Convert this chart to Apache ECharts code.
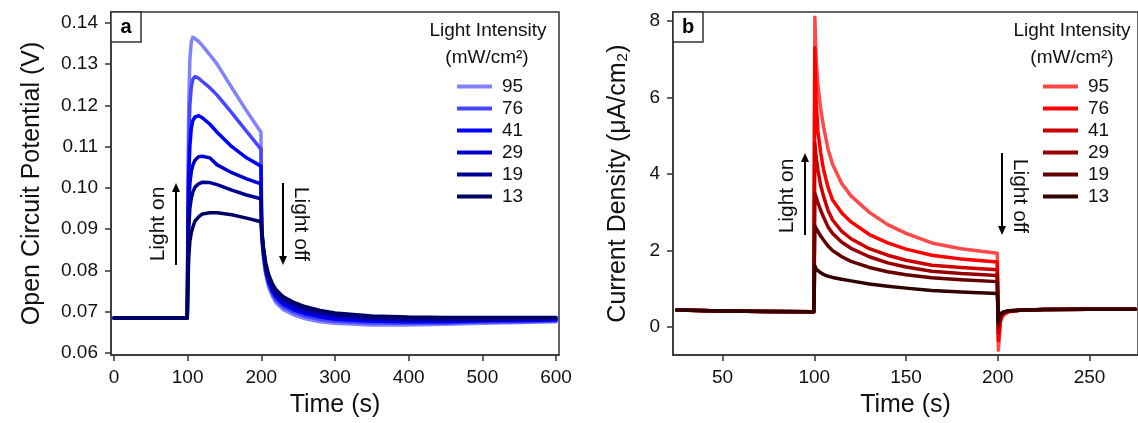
<!DOCTYPE html>
<html>
<head>
<meta charset="utf-8">
<script src="https://cdn.jsdelivr.net/npm/echarts@6/dist/echarts.min.js"></script>
<style>
html,body{margin:0;padding:0;background:#fff;}
#chart{width:1138px;height:423px;}
</style>
</head>
<body>
<div id="chart"></div>
<script>
// 图例分组 (mW/cm2)
var intensities = ['95', '76', '41', '29', '19', '13'];
var blueColors = ['#8282ff', '#4646ff', '#0000ff', '#0000cc', '#000096', '#000064'];
var redColors = ['#ff4848', '#ff0000', '#cc0000', '#960000', '#640000', '#320000'];

// a: 开路电位 (V)
var timeA = [0, 50, 99.5, 100.5, 101.5, 103, 105, 107, 110, 115, 120, 130, 140, 160, 180, 199.5,
  200.5, 203, 206, 210, 215, 220, 230, 245, 260, 280, 300, 350, 400, 450, 500, 550, 600];
var ocp95 = [0.0685, 0.0685, 0.0685, 0.1000, 0.1200, 0.1310, 0.1355, 0.1365, 0.1362, 0.1355, 0.1345, 0.1323, 0.1300, 0.1243, 0.1187, 0.1135,
  0.0880, 0.0830, 0.0790, 0.0760, 0.0738, 0.0722, 0.0705, 0.0692, 0.0683, 0.0676, 0.0672, 0.0668, 0.0668, 0.0670, 0.0672, 0.0674, 0.0676];
var ocp76 = [0.0685, 0.0685, 0.0685, 0.0960, 0.1110, 0.1200, 0.1245, 0.1263, 0.1270, 0.1266, 0.1258, 0.1243, 0.1225, 0.1182, 0.1137, 0.1094,
  0.0885, 0.0835, 0.0795, 0.0766, 0.0744, 0.0728, 0.0711, 0.0698, 0.0689, 0.0681, 0.0677, 0.0673, 0.0672, 0.0673, 0.0675, 0.0676, 0.0678];
var ocp41 = [0.0685, 0.0685, 0.0685, 0.0920, 0.1030, 0.1100, 0.1145, 0.1163, 0.1172, 0.1175, 0.1170, 0.1155, 0.1135, 0.1100, 0.1073, 0.1053,
  0.0890, 0.0840, 0.0800, 0.0772, 0.0750, 0.0735, 0.0718, 0.0704, 0.0695, 0.0687, 0.0682, 0.0677, 0.0676, 0.0676, 0.0678, 0.0679, 0.0680];
var ocp29 = [0.0685, 0.0685, 0.0685, 0.0870, 0.0960, 0.1010, 0.1040, 0.1055, 0.1067, 0.1076, 0.1077, 0.1073, 0.1056, 0.1037, 0.1022, 0.1010,
  0.0893, 0.0845, 0.0806, 0.0778, 0.0756, 0.0741, 0.0724, 0.0710, 0.0700, 0.0692, 0.0687, 0.0681, 0.0679, 0.0679, 0.0680, 0.0681, 0.0682];
var ocp19 = [0.0685, 0.0685, 0.0685, 0.0820, 0.0900, 0.0950, 0.0975, 0.0990, 0.1002, 0.1010, 0.1014, 0.1013, 0.1008, 0.0995, 0.0983, 0.0974,
  0.0896, 0.0850, 0.0812, 0.0784, 0.0762, 0.0747, 0.0730, 0.0716, 0.0706, 0.0697, 0.0691, 0.0684, 0.0682, 0.0682, 0.0682, 0.0683, 0.0684];
var ocp13 = [0.0685, 0.0685, 0.0685, 0.0770, 0.0830, 0.0870, 0.0892, 0.0905, 0.0920, 0.0930, 0.0937, 0.0940, 0.0940, 0.0935, 0.0927, 0.0918,
  0.0900, 0.0855, 0.0818, 0.0790, 0.0768, 0.0753, 0.0736, 0.0722, 0.0712, 0.0703, 0.0697, 0.0690, 0.0687, 0.0686, 0.0686, 0.0686, 0.0686];

// b: 电流密度 (μA/cm2)
var timeB = [25, 50, 75, 99.7, 100.3, 101, 102, 103.5, 105, 107.5, 110, 115, 120, 130, 140, 150, 164, 180, 199.7,
  200.3, 201.5, 203, 206, 212, 225, 250, 275];
var cur95 = [0.45, 0.42, 0.41, 0.40, 8.10, 7.00, 6.30, 5.70, 5.25, 4.65, 4.25, 3.75, 3.43, 3.00, 2.68, 2.45, 2.20, 2.05, 1.93,
  -0.60, 0.15, 0.32, 0.40, 0.44, 0.46, 0.47, 0.47];
var cur76 = [0.45, 0.42, 0.41, 0.40, 7.30, 5.90, 5.10, 4.55, 4.13, 3.65, 3.32, 2.98, 2.75, 2.42, 2.20, 2.04, 1.88, 1.78, 1.70,
  -0.35, 0.20, 0.34, 0.41, 0.44, 0.46, 0.47, 0.47];
var cur41 = [0.45, 0.42, 0.41, 0.40, 4.80, 4.45, 4.10, 3.70, 3.43, 3.05, 2.80, 2.50, 2.31, 2.05, 1.88, 1.75, 1.62, 1.56, 1.50,
  -0.15, 0.25, 0.36, 0.42, 0.44, 0.46, 0.47, 0.47];
var cur29 = [0.45, 0.42, 0.41, 0.40, 3.50, 3.40, 3.25, 3.05, 2.88, 2.62, 2.45, 2.22, 2.06, 1.84, 1.68, 1.57, 1.46, 1.40, 1.35,
  0.00, 0.30, 0.38, 0.42, 0.44, 0.46, 0.47, 0.47];
var cur19 = [0.45, 0.42, 0.41, 0.40, 2.65, 2.60, 2.50, 2.38, 2.28, 2.12, 2.00, 1.84, 1.72, 1.56, 1.45, 1.37, 1.29, 1.24, 1.19,
  0.08, 0.32, 0.39, 0.43, 0.44, 0.46, 0.47, 0.47];
var cur13 = [0.45, 0.42, 0.41, 0.40, 1.60, 1.52, 1.47, 1.42, 1.38, 1.33, 1.30, 1.25, 1.21, 1.13, 1.07, 1.02, 0.96, 0.92, 0.88,
  0.15, 0.35, 0.40, 0.43, 0.44, 0.46, 0.47, 0.47];

// 刻度
var ticksXA = [0, 100, 200, 300, 400, 500, 600];
var ticksYA = [0.06, 0.07, 0.08, 0.09, 0.10, 0.11, 0.12, 0.13, 0.14];
var ticksXB = [50, 100, 150, 200, 250];
var ticksYB = [0, 2, 4, 6, 8];

var FONT = 'Liberation Sans, Arial, Helvetica, sans-serif';
var chart = echarts.init(document.getElementById('chart'));

function pairs(t, v) {
  return t.map(function (x, i) { return [x, v[i]]; });
}

function mkSeries(prefix, axisIdx, t, list, colors) {
  return list.map(function (v, i) {
    return {
      name: prefix + intensities[i],
      type: 'line',
      xAxisIndex: axisIdx,
      yAxisIndex: axisIdx,
      data: pairs(t, v),
      showSymbol: false,
      smooth: false,
      lineStyle: {color: colors[i], width: 3.5, join: 'round', cap: 'round'},
      itemStyle: {color: colors[i]},
      z: 2 + i
    };
  });
}

function xAx(idx, min, max, ticks, nameTxt) {
  return {
    type: 'value', gridIndex: idx, min: min, max: max,
    name: nameTxt, nameLocation: 'middle', nameGap: 38,
    nameTextStyle: {fontSize: 25, color: '#111', fontFamily: FONT},
    axisLine: {show: true, onZero: false, lineStyle: {color: '#333', width: 1.5}},
    axisTick: {show: true, length: 6, customValues: ticks, lineStyle: {color: '#333', width: 1.5}},
    axisLabel: {customValues: ticks, margin: 13, fontSize: 19, color: '#111', fontFamily: FONT},
    splitLine: {show: false}
  };
}

function yAx(idx, min, max, ticks, nameTxt, gap, fmt) {
  return {
    type: 'value', gridIndex: idx, min: min, max: max,
    name: nameTxt, nameLocation: 'middle', nameGap: gap,
    nameTextStyle: {fontSize: 25, color: '#111', fontFamily: FONT},
    axisLine: {show: true, onZero: false, lineStyle: {color: '#333', width: 1.5}},
    axisTick: {show: true, length: 6, customValues: ticks, lineStyle: {color: '#333', width: 1.5}},
    axisLabel: {customValues: ticks, margin: 13, fontSize: 19, color: '#111', fontFamily: FONT, formatter: fmt},
    splitLine: {show: false}
  };
}

function legendFor(prefix, left) {
  return {
    orient: 'vertical', left: left, top: 72,
    data: intensities.map(function (n) { return prefix + n; }),
    icon: 'rect', itemWidth: 35, itemHeight: 4, itemGap: 3,
    formatter: function (n) { return n.slice(1); },
    textStyle: {fontSize: 19, color: '#111', fontFamily: FONT, padding: [0, 0, 0, 5]}
  };
}

function arrow(x, y1, y2) {
  // y1 起点, y2 箭头
  var dir = y2 > y1 ? 1 : -1;
  return [
    {type: 'line', shape: {x1: x, y1: y1, x2: x, y2: y2 - dir * 6}, style: {stroke: '#000', lineWidth: 2}},
    {type: 'polygon', shape: {points: [[x - 4, y2 - dir * 9], [x + 4, y2 - dir * 9], [x, y2]]}, style: {fill: '#000'}}
  ];
}

function rotText(txt, x, y, rot) {
  return {type: 'text', x: x, y: y, rotation: rot,
    style: {text: txt, fontSize: 21, fill: '#111', fontFamily: FONT, align: 'center', verticalAlign: 'middle'}};
}

function panelTag(txt, x, y) {
  return [
    {type: 'rect', shape: {x: x, y: y, width: 30, height: 30}, style: {fill: '#fff', stroke: '#333', lineWidth: 1.5}, z: 10},
    {type: 'text', x: x + 15, y: y + 15, z: 11,
      style: {text: txt, fontSize: 20, fontWeight: 'bold', fill: '#000', fontFamily: FONT, align: 'center', verticalAlign: 'middle'}}
  ];
}

function centerText(txt, x, y) {
  return {type: 'text', x: x, y: y,
    style: {text: txt, fontSize: 19, fill: '#111', fontFamily: FONT, align: 'center', verticalAlign: 'middle'}};
}

var gfx = [].concat(
  panelTag('a', 111, 12), panelTag('b', 673, 12),
  arrow(176, 265, 183), arrow(283, 183, 265),
  arrow(805, 235, 153), arrow(1002, 153, 235),
  [rotText('Light on', 158, 224, Math.PI / 2), rotText('Light off', 301, 224, -Math.PI / 2),
   rotText('Light on', 787, 196, Math.PI / 2), rotText('Light off', 1020, 196, -Math.PI / 2),
   centerText('Light Intensity', 488, 31), centerText('(mW/cm\u00b2)', 487, 58),
   centerText('Light Intensity', 1072, 31), centerText('(mW/cm\u00b2)', 1072, 58)]
);

var option = {
  backgroundColor: '#fff',
  animation: false,
  grid: [
    {left: 111, top: 12, width: 448, height: 345, show: true, borderColor: '#333', borderWidth: 1.5, backgroundColor: 'transparent'},
    {left: 673, top: 12, width: 470, height: 345, show: true, borderColor: '#333', borderWidth: 1.5, backgroundColor: 'transparent'}
  ],
  xAxis: [
    xAx(0, -4, 604, ticksXA, 'Time (s)'),
    xAx(1, 23, 276.4, ticksXB, 'Time (s)')
  ],
  yAxis: [
    yAx(0, 0.05952, 0.14265, ticksYA, 'Open Circuit Potential (V)', 66, function (v) { return v.toFixed(2); }),
    yAx(1, -0.727, 8.234, ticksYB, 'Current Density (\u03bcA/cm\u2082)', 42, function (v) { return String(v); })
  ],
  legend: [legendFor('a', 452), legendFor('b', 1038)],
  graphic: gfx,
  series: [].concat(
    mkSeries('a', 0, timeA, [ocp95, ocp76, ocp41, ocp29, ocp19, ocp13], blueColors),
    mkSeries('b', 1, timeB, [cur95, cur76, cur41, cur29, cur19, cur13], redColors)
  )
};

chart.setOption(option);
</script>
</body>
</html>
